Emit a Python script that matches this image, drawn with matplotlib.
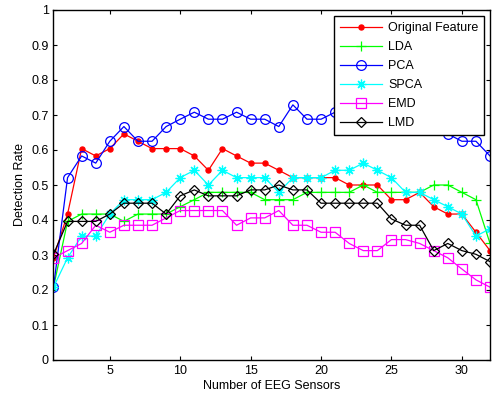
import matplotlib
matplotlib.use("Agg")
import matplotlib.pyplot as plt
import numpy as np

plt.rcParams['font.family'] = ['Liberation Sans', 'DejaVu Sans']
plt.rcParams['font.size'] = 9

sensors = np.arange(1, 33)

original = [0.292, 0.417, 0.604, 0.583, 0.604, 0.646, 0.625, 0.604, 0.604, 0.604,
            0.583, 0.542, 0.604, 0.583, 0.5625, 0.5625, 0.542, 0.521, 0.521, 0.521,
            0.521, 0.5, 0.5, 0.5, 0.458, 0.458, 0.479, 0.438, 0.417, 0.417,
            0.365, 0.3125]
lda = [0.208, 0.396, 0.417, 0.417, 0.417, 0.396, 0.417, 0.417, 0.417, 0.438,
       0.458, 0.479, 0.479, 0.479, 0.479, 0.458, 0.458, 0.458, 0.479, 0.479,
       0.479, 0.479, 0.5, 0.479, 0.479, 0.479, 0.479, 0.5, 0.5, 0.479,
       0.458, 0.333]
pca = [0.208, 0.521, 0.583, 0.5625, 0.625, 0.667, 0.625, 0.625, 0.667, 0.688,
       0.708, 0.688, 0.688, 0.708, 0.688, 0.688, 0.667, 0.729, 0.688, 0.688,
       0.708, 0.708, 0.729, 0.708, 0.708, 0.688, 0.708, 0.688, 0.646, 0.625,
       0.625, 0.583]
spca = [0.208, 0.292, 0.354, 0.354, 0.417, 0.458, 0.458, 0.458, 0.479, 0.521,
        0.542, 0.5, 0.542, 0.521, 0.521, 0.521, 0.479, 0.521, 0.521, 0.521,
        0.542, 0.542, 0.5625, 0.542, 0.521, 0.479, 0.479, 0.458, 0.438, 0.417,
        0.354, 0.375]
emd = [0.292, 0.3125, 0.333, 0.385, 0.365, 0.385, 0.385, 0.385, 0.406, 0.427,
       0.427, 0.427, 0.427, 0.385, 0.406, 0.406, 0.427, 0.385, 0.385, 0.365,
       0.365, 0.333, 0.3125, 0.3125, 0.344, 0.344, 0.333, 0.3125, 0.292, 0.26,
       0.229, 0.208]
lmd = [0.302, 0.396, 0.396, 0.396, 0.417, 0.448, 0.448, 0.448, 0.417, 0.469,
       0.486, 0.469, 0.469, 0.469, 0.486, 0.486, 0.5, 0.486, 0.486, 0.448,
       0.448, 0.448, 0.448, 0.448, 0.403, 0.385, 0.385, 0.3125, 0.333, 0.3125,
       0.302, 0.281]

fig = plt.figure(figsize=(4.92, 4.0), dpi=100)
ax = fig.add_axes([0.1087, 0.1, 0.8873, 0.875])

lw = 0.9
ax.plot(sensors, original, '-', color='red', marker='o', ms=3.6, mfc='red', mec='red',
        lw=lw, label='Original Feature')
ax.plot(sensors, lda, '-', color='#00ff00', marker='+', ms=7, mew=0.9,
        lw=lw, label='LDA')
ax.plot(sensors, pca, '-', color='blue', marker='o', ms=7, mfc='none', mew=0.9,
        lw=lw, label='PCA')
ax.plot(sensors, spca, '-', color='cyan', marker=(8, 2, 0), ms=7, mew=0.9,
        lw=lw, label='SPCA')
ax.plot(sensors, emd, '-', color='magenta', marker='s', ms=6.5, mfc='none', mew=0.9,
        lw=lw, label='EMD')
ax.plot(sensors, lmd, '-', color='black', marker='D', ms=5.5, mfc='none', mew=0.9,
        lw=lw, label='LMD')

ax.set_xlim(1, 32)
ax.set_ylim(0, 1)
ax.set_xticks([5, 10, 15, 20, 25, 30])
ax.set_yticks(np.arange(0, 1.01, 0.1))
ax.set_yticklabels(['0', '0.1', '0.2', '0.3', '0.4', '0.5', '0.6', '0.7', '0.8', '0.9', '1'])
ax.tick_params(direction='in', top=True, right=True, length=3, width=0.8)
for s in ax.spines.values():
    s.set_linewidth(1.0)

ax.set_xlabel('Number of EEG Sensors', labelpad=2)
ax.set_ylabel('Detection Rate', labelpad=4)

leg = ax.legend(loc='upper right', fancybox=False, framealpha=1, edgecolor='black',
                handlelength=3.3, labelspacing=0.56, borderaxespad=0.45,
                handletextpad=0.5, borderpad=0.5)
leg.get_frame().set_linewidth(1.0)

fig.savefig('out.png', dpi=100)
